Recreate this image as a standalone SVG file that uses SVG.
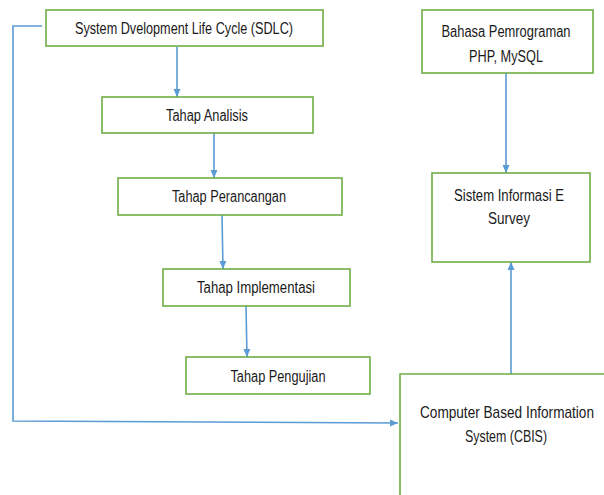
<svg xmlns="http://www.w3.org/2000/svg" width="604" height="495" viewBox="0 0 604 495">
<defs>
<style>
.box{fill:#fff;stroke:#70AD47;stroke-width:1.6}
.t{font-family:"Liberation Sans Narrow","Liberation Sans",Arial,sans-serif;font-size:16px;fill:#1a1a1a;text-anchor:middle}
.c{fill:none;stroke:#5B9BD5;stroke-width:1.6}
</style>
<marker id="ah" markerUnits="userSpaceOnUse" markerWidth="10" markerHeight="8" refX="8" refY="4" orient="auto">
<path d="M0,0.5 L8,4 L0,7.5 z" fill="#5B9BD5"/>
</marker>
</defs>
<rect width="604" height="495" fill="#fff"/>
<g id="connectors">
<line class="c" x1="177" y1="47" x2="177" y2="97" marker-end="url(#ah)"/>
<line class="c" x1="214" y1="133" x2="214" y2="178" marker-end="url(#ah)"/>
<line class="c" x1="222" y1="215" x2="223" y2="269" marker-end="url(#ah)"/>
<line class="c" x1="246" y1="306" x2="247" y2="357" marker-end="url(#ah)"/>
<line class="c" x1="506" y1="73" x2="506" y2="173" marker-end="url(#ah)"/>
<line class="c" x1="511" y1="374" x2="511" y2="262" marker-end="url(#ah)"/>
<polyline class="c" points="42,26 13,26 13,421 398,423" marker-end="url(#ah)"/>
</g>
<g id="sdlc">
<rect class="box" x="46" y="10" width="277" height="36"/>
<text class="t" x="184" y="34" textLength="218" lengthAdjust="spacingAndGlyphs">System Dvelopment Life Cycle (SDLC)</text>
</g>
<g id="analisis">
<rect class="box" x="102" y="97" width="211" height="36"/>
<text class="t" x="207" y="121" textLength="82" lengthAdjust="spacingAndGlyphs">Tahap Analisis</text>
</g>
<g id="perancangan">
<rect class="box" x="118" y="178" width="224" height="37"/>
<text class="t" x="229" y="202" textLength="114" lengthAdjust="spacingAndGlyphs">Tahap Perancangan</text>
</g>
<g id="implementasi">
<rect class="box" x="163" y="269" width="187" height="37"/>
<text class="t" x="256" y="293" textLength="118" lengthAdjust="spacingAndGlyphs">Tahap Implementasi</text>
</g>
<g id="pengujian">
<rect class="box" x="186" y="357" width="184" height="37"/>
<text class="t" x="278" y="382" textLength="95" lengthAdjust="spacingAndGlyphs">Tahap Pengujian</text>
</g>
<g id="bahasa">
<rect class="box" x="422" y="10" width="171" height="63"/>
<text class="t" x="506" y="37" textLength="129" lengthAdjust="spacingAndGlyphs">Bahasa Pemrograman</text>
<text class="t" x="506" y="62" textLength="74" lengthAdjust="spacingAndGlyphs">PHP, MySQL</text>
</g>
<g id="sistem">
<rect class="box" x="432" y="173" width="158" height="89"/>
<text class="t" x="509" y="201" textLength="110" lengthAdjust="spacingAndGlyphs">Sistem Informasi E</text>
<text class="t" x="509" y="224" textLength="42" lengthAdjust="spacingAndGlyphs">Survey</text>
</g>
<g id="cbis">
<path class="box" d="M400,495 V374 H604"/>
<text class="t" transform="translate(507,418) scale(0.85,1)" x="0" y="0" textLength="204.7" lengthAdjust="spacingAndGlyphs">Computer Based Information</text>
<text class="t" transform="translate(506,442) scale(0.85,1)" x="0" y="0" textLength="96.5" lengthAdjust="spacingAndGlyphs">System (CBIS)</text>
</g>
</svg>
